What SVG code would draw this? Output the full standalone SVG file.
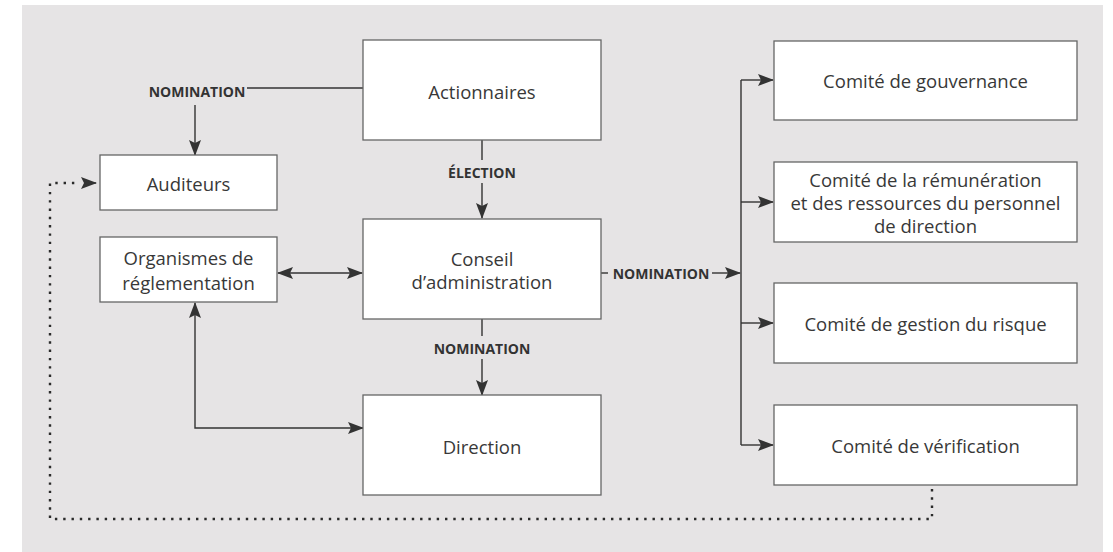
<svg xmlns="http://www.w3.org/2000/svg" width="1113" height="552" viewBox="0 0 1113 552">
  <defs>
    <style>
      .bg { fill: #e6e4e5; }
      .box { fill: #ffffff; stroke: #666666; stroke-width: 1.3; }
      .txt { font-family: "Open Sans", "Liberation Sans", sans-serif; font-weight: 400; font-size: 18.5px; fill: #383838; text-anchor: middle; dominant-baseline: central; }
      .lbl { font-family: "Open Sans", "Liberation Sans", sans-serif; font-weight: 700; font-size: 14px; fill: #333333; text-anchor: middle; dominant-baseline: central; }
      .ln { fill: none; stroke: #333333; stroke-width: 1.4; }
      .dot { fill: none; stroke: #2a2a2a; stroke-width: 2.4; stroke-dasharray: 2.4 5.9; }
    </style>
    <marker id="arr" viewBox="0 0 16 12" refX="15" refY="6" markerWidth="16" markerHeight="12" markerUnits="userSpaceOnUse" orient="auto-start-reverse">
      <path d="M0,0 L16,6 L0,12 L3,6 z" fill="#333333"/>
    </marker>
  </defs>

  <rect class="bg" x="22" y="5" width="1081" height="547"/>

  <!-- connectors -->
  <g id="connectors">
    <!-- Actionnaires -> Auditeurs (nomination) -->
    <path class="ln" d="M247,88 H363"/>
    <path class="ln" d="M195,105 V155" marker-end="url(#arr)"/>
    <!-- Actionnaires -> Conseil (election) -->
    <path class="ln" d="M482,140 V160"/>
    <path class="ln" d="M482,183 V218" marker-end="url(#arr)"/>
    <!-- Conseil -> Direction (nomination) -->
    <path class="ln" d="M482,319 V336"/>
    <path class="ln" d="M482,359 V395" marker-end="url(#arr)"/>
    <!-- Organismes <-> Conseil -->
    <path class="ln" d="M278,273 H362" marker-start="url(#arr)" marker-end="url(#arr)"/>
    <!-- Organismes <-> Direction -->
    <path class="ln" d="M195,303 V428 H363" marker-start="url(#arr)" marker-end="url(#arr)"/>
    <!-- Conseil -> committees (nomination) -->
    <path class="ln" d="M601,273 H608"/>
    <path class="ln" d="M712,273 H740" marker-end="url(#arr)"/>
    <path class="ln" d="M741,80 V445"/>
    <path class="ln" d="M741,80 H773" marker-end="url(#arr)"/>
    <path class="ln" d="M741,202 H773" marker-end="url(#arr)"/>
    <path class="ln" d="M741,323 H773" marker-end="url(#arr)"/>
    <path class="ln" d="M741,445 H773" marker-end="url(#arr)"/>
    <!-- Comité de vérification -> Auditeurs (dotted) -->
    <path class="dot" d="M932,489 V519 H50 V183 H77"/>
    <path class="ln" d="M90,183 H96" marker-end="url(#arr)" stroke="none"/>
    <text class="lbl" x="197" y="91">NOMINATION</text>
    <text class="lbl" x="482" y="172">ÉLECTION</text>
    <text class="lbl" x="482" y="348">NOMINATION</text>
    <text class="lbl" x="661" y="273">NOMINATION</text>
  </g>

  <g id="actionnaires">
    <rect class="box" x="363" y="40" width="238" height="100"/>
    <text class="txt" x="482" y="91">Actionnaires</text>
  </g>
  <g id="auditeurs">
    <rect class="box" x="100" y="155" width="177" height="55"/>
    <text class="txt" x="188.5" y="183">Auditeurs</text>
  </g>
  <g id="organismes">
    <rect class="box" x="100" y="237" width="177" height="65"/>
    <text class="txt" x="188.5" y="257.5">Organismes de</text>
    <text class="txt" x="188.5" y="282">réglementation</text>
  </g>
  <g id="conseil">
    <rect class="box" x="363" y="219" width="238" height="100"/>
    <text class="txt" x="482" y="258">Conseil</text>
    <text class="txt" x="482" y="281">d’administration</text>
  </g>
  <g id="direction">
    <rect class="box" x="363" y="395" width="238" height="100"/>
    <text class="txt" x="482" y="446">Direction</text>
  </g>
  <g id="comite-gouvernance">
    <rect class="box" x="774" y="41" width="303" height="79"/>
    <text class="txt" x="925.5" y="80">Comité de gouvernance</text>
  </g>
  <g id="comite-remuneration">
    <rect class="box" x="774" y="162" width="303" height="80"/>
    <text class="txt" x="925.5" y="179">Comité de la rémunération</text>
    <text class="txt" x="925.5" y="202">et des ressources du personnel</text>
    <text class="txt" x="925.5" y="225">de direction</text>
  </g>
  <g id="comite-risque">
    <rect class="box" x="774" y="283" width="303" height="80"/>
    <text class="txt" x="925.5" y="323">Comité de gestion du risque</text>
  </g>
  <g id="comite-verification">
    <rect class="box" x="774" y="405" width="303" height="80"/>
    <text class="txt" x="925.5" y="445">Comité de vérification</text>
  </g>
</svg>
